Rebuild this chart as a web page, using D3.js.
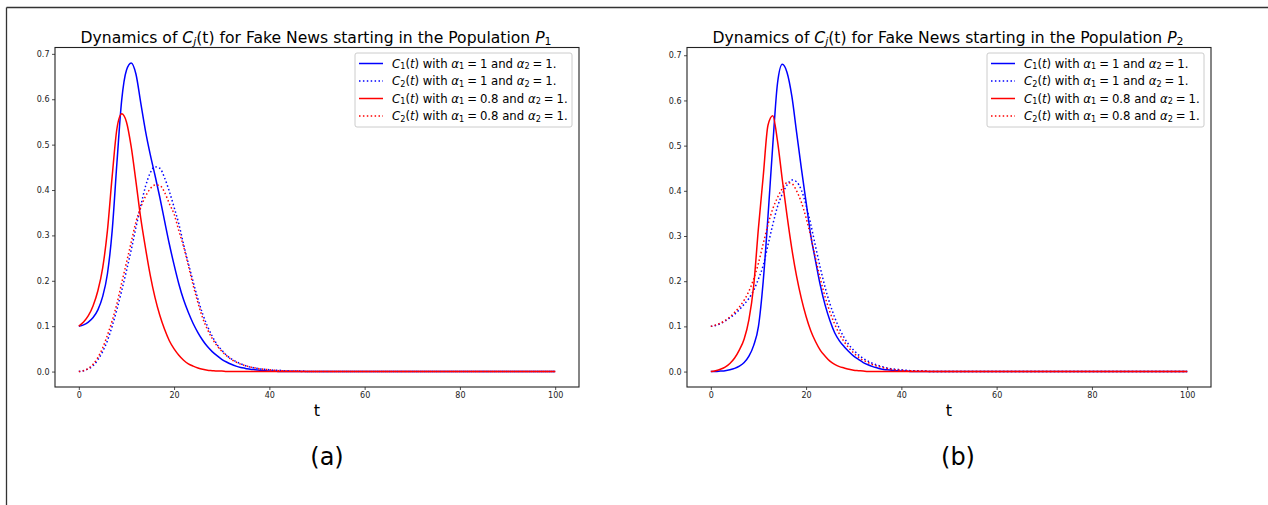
<!DOCTYPE html>
<html>
<head>
<meta charset="utf-8">
<script src="https://cdn.jsdelivr.net/npm/d3@7"></script>
<style>
  html, body { margin: 0; padding: 0; background: #fff; }
  svg { display: block; font-family: "DejaVu Sans", sans-serif; }
</style>
</head>
<body>
<svg id="chart" width="1268" height="505"></svg>
<script>
// ---------------- DATA ----------------
const tValues = [0,1,2,3,4,5,6,7,8,9,10,11,12,13,14,15,16,17,18,19,20,21,22,23,24,25,26,27,28,29,30,31,32,33,34,35,36,37,38,39,40,41,42,43,44,45,46,47,48,49,50,60,70,80,90,100];

const xTicks = [0, 20, 40, 60, 80, 100];
const yTicks = [0.0, 0.1, 0.2, 0.3, 0.4, 0.5, 0.6, 0.7];

// Panel (a): fake news starting in population P1
const a_C1_alpha1 = [0.100,0.103,0.109,0.119,0.136,0.165,0.215,0.310,0.460,0.598,0.664,0.680,0.655,0.592,0.530,0.478,0.432,0.384,0.332,0.281,0.235,0.193,0.158,0.130,0.106,0.086,0.069,0.055,0.044,0.035,0.027,0.021,0.016,0.012,0.009,0.007,0.005,0.004,0.003,0.002,0.001,0.001,0,0,0,0,0,0,0,0,0,0,0,0,0,0];
const a_C2_alpha1 = [0.000,0.002,0.006,0.013,0.026,0.044,0.068,0.100,0.137,0.178,0.222,0.268,0.318,0.365,0.408,0.438,0.451,0.448,0.427,0.397,0.362,0.325,0.280,0.238,0.198,0.160,0.127,0.100,0.078,0.060,0.047,0.036,0.028,0.022,0.017,0.013,0.010,0.008,0.006,0.005,0.004,0.003,0.003,0.002,0.002,0.001,0.001,0.001,0,0,0,0,0,0,0,0];
const a_C1_alpha08 = [0.100,0.109,0.123,0.145,0.178,0.228,0.310,0.430,0.535,0.568,0.550,0.495,0.418,0.338,0.272,0.212,0.163,0.124,0.093,0.068,0.050,0.036,0.025,0.017,0.012,0.008,0.005,0.003,0.002,0.001,0.001,0,0,0,0,0,0,0,0,0,0,0,0,0,0,0,0,0,0,0,0,0,0,0,0,0];
const a_C2_alpha08 = [0.000,0.002,0.007,0.016,0.031,0.052,0.080,0.112,0.150,0.195,0.240,0.285,0.330,0.362,0.386,0.403,0.411,0.410,0.395,0.370,0.347,0.310,0.275,0.233,0.190,0.152,0.118,0.093,0.073,0.057,0.045,0.035,0.027,0.021,0.016,0.013,0.010,0.008,0.006,0.005,0.004,0.003,0.002,0.002,0.001,0.001,0.001,0,0,0,0,0,0,0,0,0];

// Panel (b): fake news starting in population P2
const b_C1_alpha1 = [0.000,0.000,0.001,0.002,0.004,0.007,0.012,0.020,0.034,0.058,0.100,0.200,0.343,0.500,0.638,0.680,0.662,0.610,0.530,0.450,0.375,0.300,0.244,0.190,0.147,0.113,0.086,0.068,0.055,0.044,0.034,0.027,0.020,0.015,0.011,0.008,0.005,0.004,0.003,0.002,0.001,0.001,0,0,0,0,0,0,0,0,0,0,0,0,0,0];
const b_C2_alpha1 = [0.100,0.102,0.106,0.112,0.119,0.127,0.137,0.149,0.162,0.180,0.205,0.235,0.280,0.325,0.365,0.393,0.413,0.424,0.420,0.402,0.368,0.325,0.276,0.229,0.186,0.150,0.120,0.095,0.075,0.059,0.047,0.037,0.029,0.023,0.018,0.014,0.011,0.008,0.006,0.005,0.004,0.003,0.002,0.002,0.001,0.001,0,0,0,0,0,0,0,0,0,0];
const b_C1_alpha08 = [0.000,0.002,0.005,0.010,0.018,0.030,0.048,0.072,0.115,0.190,0.318,0.432,0.545,0.566,0.510,0.425,0.345,0.272,0.211,0.162,0.122,0.090,0.066,0.047,0.034,0.023,0.016,0.011,0.008,0.005,0.003,0.002,0.001,0,0,0,0,0,0,0,0,0,0,0,0,0,0,0,0,0,0,0,0,0,0,0];
const b_C2_alpha08 = [0.100,0.103,0.107,0.113,0.121,0.131,0.143,0.158,0.178,0.205,0.240,0.283,0.325,0.360,0.385,0.405,0.418,0.416,0.400,0.375,0.340,0.298,0.250,0.205,0.165,0.132,0.105,0.083,0.066,0.052,0.041,0.032,0.025,0.020,0.015,0.012,0.009,0.007,0.005,0.004,0.003,0.002,0.002,0.001,0.001,0.001,0,0,0,0,0,0,0,0,0,0];

const legendLabels = [
  "$C_1(t)$ with $\\alpha_1 = 1$ and $\\alpha_2 = 1$.",
  "$C_2(t)$ with $\\alpha_1 = 1$ and $\\alpha_2 = 1$.",
  "$C_1(t)$ with $\\alpha_1 = 0.8$ and $\\alpha_2 = 1$.",
  "$C_2(t)$ with $\\alpha_1 = 0.8$ and $\\alpha_2 = 1$."
];
const seriesColors = ["#0000ff", "#0000ff", "#ff0000", "#ff0000"];
const seriesDotted = [false, true, false, true];

const panelTitles = [
  "Dynamics of $C_j$(t) for Fake News starting in the Population $P_1$",
  "Dynamics of $C_j$(t) for Fake News starting in the Population $P_2$"
];
const panelCaptions = ["(a)", "(b)"];
const xLabel = "t";

const panels = [
  { series: [a_C1_alpha1, a_C2_alpha1, a_C1_alpha08, a_C2_alpha08], left: 55, right: 579, yMax: 0.680, capX: 327 },
  { series: [b_C1_alpha1, b_C2_alpha1, b_C1_alpha08, b_C2_alpha08], left: 687, right: 1211, yMax: 0.683, capX: 958 }
];

// ---------------- DRAW ----------------
const svg = d3.select("#chart");

// outer frame (top and left border)
svg.append("line").attr("x1", 6.5).attr("y1", 7.5).attr("x2", 1268).attr("y2", 7.5)
  .attr("stroke", "#333").attr("stroke-width", 1.3);
svg.append("line").attr("x1", 6.5).attr("y1", 7.5).attr("x2", 6.5).attr("y2", 505)
  .attr("stroke", "#333").attr("stroke-width", 1.3);

// rich text helper: $...$ math segments, _x subscript, \alpha
function addRich(textSel, str) {
  const parts = str.split("$");
  let resetDy = null;
  function add(txt, opts) {
    const ts = textSel.append("tspan").text(txt);
    if (opts && opts.italic) ts.attr("font-style", "italic");
    if (opts && opts.sub) {
      ts.attr("dy", "0.22em").attr("font-size", "0.7em");
      resetDy = "-0.154em";
    } else if (resetDy) {
      ts.attr("dy", resetDy);
      resetDy = null;
    }
    return ts;
  }
  parts.forEach((p, idx) => {
    const isMath = idx % 2 === 1;
    if (!isMath) {
      if (p.length) add(p);
      return;
    }
    let i = 0;
    while (i < p.length) {
      const ch = p[i];
      if (p.startsWith("\\alpha", i)) { add("α", { italic: true }); i += 6; continue; }
      if (ch === "_") {
        const s = p[i + 1];
        add(s, { sub: true, italic: /[a-z]/i.test(s) });
        i += 2; continue;
      }
      if (ch === " ") { i++; continue; }
      if (ch === "=") { add("\u2005=\u2005"); i++; continue; }
      add(ch, { italic: /[A-Za-z]/.test(ch) });
      i++;
    }
  });
}

const axTop = 47.5, axBottom = 387;

panels.forEach((P, pi) => {
  const x = d3.scaleLinear().domain([-5, 105]).range([P.left, P.right]);
  const margin = P.yMax * 0.05;
  const y = d3.scaleLinear().domain([-margin, P.yMax + margin]).range([axBottom, axTop]);

  const g = svg.append("g");

  const line = d3.line()
    .x((d, i) => x(tValues[i]))
    .y(d => y(d))
    .curve(d3.curveMonotoneX);

  P.series.forEach((vals, si) => {
    g.append("path")
      .attr("d", line(vals))
      .attr("fill", "none")
      .attr("stroke", seriesColors[si])
      .attr("stroke-width", 1.5)
      .attr("stroke-dasharray", seriesDotted[si] ? "1.5,2.4" : null)
      .attr("stroke-linecap", "butt");
  });

  const xAxis = d3.axisBottom(x).tickValues(xTicks).tickSize(3).tickPadding(2.5).tickFormat(d3.format("d"));
  const yAxis = d3.axisLeft(y).tickValues(yTicks).tickSize(3).tickPadding(2.5).tickFormat(d3.format(".1f"));

  const gx = g.append("g").attr("transform", `translate(0,${axBottom})`).call(xAxis);
  const gy = g.append("g").attr("transform", `translate(${P.left},0)`).call(yAxis);
  [gx, gy].forEach(ax => {
    ax.select(".domain").remove();
    ax.selectAll("text").attr("font-size", 8).attr("fill", "#222").attr("font-family", "DejaVu Sans");
    ax.selectAll("line").attr("stroke", "#222").attr("stroke-width", 0.8);
  });

  g.append("rect")
    .attr("x", P.left).attr("y", axTop)
    .attr("width", P.right - P.left).attr("height", axBottom - axTop)
    .attr("fill", "none").attr("stroke", "#222").attr("stroke-width", 1.1);

  const title = g.append("text")
    .attr("x", (P.left + P.right) / 2 - 1).attr("y", 43)
    .attr("text-anchor", "middle").attr("font-size", 15.6).attr("fill", "#000");
  addRich(title, panelTitles[pi]);

  g.append("text").attr("x", (P.left + P.right) / 2).attr("y", 416)
    .attr("text-anchor", "middle").attr("font-size", 16).text(xLabel);

  g.append("text").attr("x", P.capX).attr("y", 465)
    .attr("text-anchor", "middle").attr("font-size", 24).text(panelCaptions[pi]);

  const lgRight = P.right - 7, lgTop = 53, lgW = 217, lgH = 74;
  const lgLeft = lgRight - lgW;
  const lg = g.append("g");
  lg.append("rect").attr("x", lgLeft).attr("y", lgTop).attr("width", lgW).attr("height", lgH)
    .attr("rx", 2).attr("fill", "#fff").attr("fill-opacity", 0.8)
    .attr("stroke", "#cccccc").attr("stroke-width", 1);
  legendLabels.forEach((lab, li) => {
    const cy = 63.5 + li * 17.5;
    lg.append("line").attr("x1", lgLeft + 4).attr("x2", lgLeft + 28)
      .attr("y1", cy).attr("y2", cy)
      .attr("stroke", seriesColors[li]).attr("stroke-width", 1.5)
      .attr("stroke-dasharray", seriesDotted[li] ? "1.5,2.4" : null);
    const t = lg.append("text").attr("x", lgLeft + 37).attr("y", cy + 4)
      .attr("font-size", 11.7).attr("fill", "#000");
    addRich(t, lab);
  });
});
</script>
</body>
</html>
